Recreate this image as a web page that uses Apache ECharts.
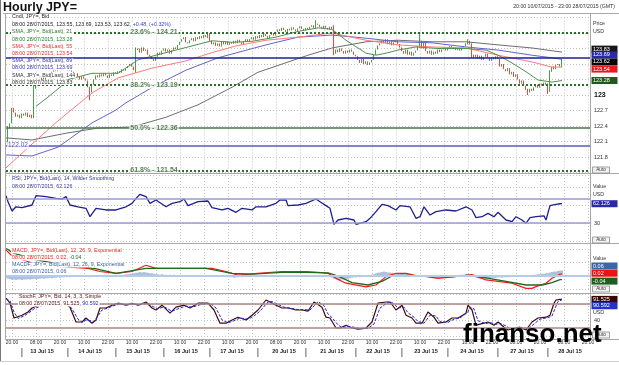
<!DOCTYPE html>
<html><head><meta charset="utf-8">
<script src="https://cdn.jsdelivr.net/npm/echarts@6/dist/echarts.min.js"></script>
<style>html,body{margin:0;padding:0;background:#fff;}#chart{width:619px;height:365px;}</style>
</head><body><div id="chart"></div>
<script>
const FONT = "'Liberation Sans', Arial, sans-serif";

// ---------- axis categories / tick labels ----------
const barCount = 293;
const categories = Array.from({length: barCount}, (_, i) => String(i));
const hourTickIdx = [3,15,27,39,51,63,75,87,99,111,123,135,147,159,171,183,195,207,219,231,243,255,267,279,291];
const hourTickText = ['20:00','08:00','20:00','10:00','22:00','10:00','22:00','10:00','22:00','10:00','20:00','08:00','20:00','10:00','22:00','10:00','22:00','10:00','22:00','10:00','22:00','08:00','20:00','08:00','20:00'];
const dayLabelIdx = [18,42,66,90,113,139,163,186,210,233,258,282];
const dayLabelText = ['13 Jul 15','14 Jul 15','15 Jul 15','16 Jul 15','17 Jul 15','20 Jul 15','21 Jul 15','22 Jul 15','23 Jul 15','24 Jul 15','27 Jul 15','28 Jul 15'];
const daySepIdx = [8,31,55,79,102,126,150,175,198,221,246,271];

// ---------- price data (hourly closes) ----------
const firstOpen = 122.85;
const openGaps = {1: 122.10};
const closes = [
122.80,122.35,122.45,122.75,122.66,122.58,122.62,122.55,122.64,122.60,
122.66,122.57,122.62,122.55,123.12,123.18,123.22,123.28,123.35,123.30,
123.38,123.42,123.40,123.45,123.50,123.46,123.52,123.48,123.55,123.50,
123.53,123.47,123.50,123.45,123.40,123.42,123.35,123.30,123.36,123.32,
123.28,123.15,123.05,123.20,123.30,123.38,123.34,123.40,123.36,123.42,
123.38,123.33,123.40,123.37,123.44,123.41,123.46,123.43,123.50,123.47,
123.52,123.56,123.60,123.55,123.48,123.87,123.90,123.82,123.92,123.85,
123.88,123.78,123.75,123.70,123.66,123.74,123.82,123.78,123.86,123.90,
123.84,123.88,123.80,123.87,123.92,123.89,123.97,124.03,124.08,124.12,
124.02,124.00,124.06,124.10,124.04,124.12,124.08,124.14,124.10,124.16,
124.12,124.20,124.05,123.98,124.02,123.95,124.00,123.94,124.03,123.98,
124.04,123.97,124.02,123.99,124.05,124.00,124.07,124.02,123.98,124.04,
124.08,124.03,124.08,124.12,124.07,124.14,124.10,124.16,124.12,124.18,
124.14,124.10,124.16,124.20,124.15,124.22,124.27,124.24,124.30,124.26,
124.22,124.28,124.25,124.31,124.27,124.24,124.29,124.33,124.28,124.25,
124.30,124.27,124.32,124.35,124.30,124.38,124.36,124.32,124.29,124.34,
124.30,124.27,124.32,124.28,123.80,123.88,123.83,123.90,123.85,123.80,
123.86,123.82,123.88,123.84,123.78,123.75,123.68,123.62,123.70,123.60,
123.65,123.58,123.63,123.68,123.78,123.88,123.96,124.00,124.05,124.00,
124.08,123.98,124.04,123.96,124.02,124.06,123.99,123.92,123.85,123.80,
123.88,123.78,123.84,123.76,123.82,123.86,123.95,124.05,123.90,124.02,
123.85,123.80,123.86,123.78,123.84,123.80,123.88,123.83,123.88,123.92,
123.86,123.90,123.95,123.89,123.93,123.87,123.91,123.86,123.92,123.95,
124.00,124.05,123.98,123.78,123.72,123.78,123.70,123.76,123.68,123.74,
123.80,123.72,123.66,123.73,123.69,123.75,123.70,123.55,123.60,123.50,
123.46,123.52,123.40,123.45,123.35,123.40,123.30,123.22,123.28,123.18,
123.10,123.05,123.12,123.08,123.15,123.20,123.14,123.22,123.18,123.24,
123.20,123.08,123.45,123.55,123.50,123.58,123.60,123.55,123.62];
const wicks = {1:[122.02,122.40],14:[122.55,123.20],42:[122.90,123.16],65:[123.43,123.92],101:[124.10,124.22],
  155:[124.28,124.45],164:[123.77,124.35],207:[123.92,124.20],231:[123.98,124.08],233:[123.72,124.00],
  261:[123.00,123.12],271:[123.02,123.22],272:[123.06,123.48],278:[123.53,123.69]};

// ---------- moving averages ----------
const sma21 = [[15,122.78],[21,122.96],[27,123.15],[31,123.30],[43,123.42],[56,123.42],[66,123.68],[81,123.83],[103,124.05],[113,124.02],[123,124.04],[135,124.12],[146,124.23],[156,124.30],[163,124.27],[170,124.06],[180,123.81],[185,123.77],[190,123.81],[196,123.87],[205,123.93],[216,123.90],[230,123.90],[240,123.87],[246,123.77],[253,123.62],[260,123.45],[266,123.29],[273,123.25],[278,123.28]];
const sma55 = [[0,121.59],[13,122.05],[26,122.50],[43,123.04],[56,123.33],[73,123.52],[90,123.66],[103,123.82],[115,123.95],[130,124.06],[146,124.12],[163,124.20],[180,124.06],[196,123.97],[213,123.93],[230,123.91],[246,123.77],[263,123.64],[273,123.54],[278,123.54]];
const sma89 = [[0,121.84],[13,121.82],[26,121.99],[43,122.46],[55,122.71],[60,122.85],[75,123.19],[90,123.48],[106,123.72],[130,123.97],[146,124.12],[163,124.16],[180,124.10],[196,124.03],[213,124.01],[230,123.93],[246,123.87],[263,123.77],[273,123.72],[278,123.69]];
const sma144 = [[0,122.17],[13,122.13],[30,122.26],[46,122.36],[63,122.38],[80,122.57],[96,122.81],[113,123.15],[126,123.44],[151,123.77],[163,123.91],[180,124.03],[196,124.06],[213,124.03],[230,124.03],[246,123.97],[263,123.91],[278,123.83]];

// ---------- horizontal levels ----------
const fibPct = ['23.6%','38.2%','50.0%','61.8%'];
const fibVal = [124.21,123.19,122.36,121.54];
const navyLevel = 123.72;
const blueLevel = 122.02;

// ---------- RSI ----------
const rsiPts = [[0,75.5],[1,65.5],[3,50],[5,57],[8,55.5],[13,60],[15,75.5],[20,74],[25,71],[28,70],[30,74],[32,60],[36,57],[40,54.5],[42,40.5],[45,54.5],[50,51.7],[55,51.7],[60,57],[63,62.8],[65,71],[67,77.8],[70,74],[72,62.8],[75,68.3],[80,57],[83,62.8],[87,65.5],[89,70],[91,58.9],[96,65.5],[101,66.7],[103,55.5],[108,51.7],[111,54.5],[115,47.8],[118,54.5],[123,51.7],[125,57],[130,57],[135,62.8],[137,68.3],[140,68.3],[141,58.9],[146,60],[150,62.8],[155,70],[157,65.5],[160,58.9],[162,54.5],[164,27.8],[166,35],[170,37.8],[174,35],[175,27.8],[180,32.2],[182,37.8],[185,48.9],[188,61],[191,58.9],[195,51.7],[197,58.9],[202,57],[205,37.8],[207,40.5],[209,57],[212,43.3],[215,48.9],[220,51.7],[225,50],[230,57],[231,60],[233,51.7],[235,38.9],[238,40.5],[241,46],[244,40.5],[246,47.8],[250,35],[253,32.2],[255,40.5],[258,35],[260,29.4],[262,38.9],[265,40.5],[269,42],[270,35],[272,58.9],[275,61],[277,62.1],[278,62.126]];
const rsiLevels = [70, 30];

// ---------- MACD ----------
const macdPts = [[0,0.29],[3,0.22],[15,0.13],[30,0.10],[41,0.085],[47,0.05],[55,0.03],[63,0.05],[70,0.12],[75,0.085],[83,0.085],[96,0.085],[103,0.085],[110,0.05],[116,0.01],[126,0.03],[138,0.05],[150,0.05],[156,0.04],[161,0.03],[165,-0.026],[170,-0.08],[180,-0.12],[185,-0.10],[190,-0.007],[195,0.03],[200,0.03],[205,0.005],[210,-0.004],[216,-0.026],[223,-0.01],[230,0.007],[233,0.015],[240,-0.044],[246,-0.06],[253,-0.08],[260,-0.137],[263,-0.137],[266,-0.11],[270,-0.08],[273,-0.026],[277,0.02],[278,0.02]];
const signalPts = [[0,0.31],[3,0.26],[15,0.18],[30,0.12],[44,0.085],[55,0.03],[70,0.085],[83,0.085],[100,0.085],[113,0.03],[123,0.02],[138,0.04],[150,0.04],[161,0.035],[166,0.0],[173,-0.074],[181,-0.10],[188,-0.06],[193,0.0],[201,0.01],[213,-0.01],[223,-0.01],[231,0.01],[240,-0.02],[250,-0.06],[260,-0.10],[268,-0.10],[273,-0.074],[277,-0.04],[278,-0.04]];
const macdHist = [
-0.020,-0.030,-0.035,-0.040,-0.040,-0.045,-0.040,-0.040,-0.045,-0.040,
-0.040,-0.035,-0.040,-0.035,-0.030,-0.035,-0.030,-0.030,-0.025,-0.030,
-0.025,-0.025,-0.020,-0.025,-0.020,-0.020,-0.015,-0.020,-0.015,-0.015,
-0.010,-0.010,-0.015,-0.010,-0.010,-0.005,-0.010,-0.005,-0.010,-0.005,
-0.005,-0.010,-0.015,-0.010,-0.005,-0.005,0,-0.005,0,0.005,
0.005,0,0.005,0.010,0.005,0.010,0.010,0.015,0.010,0.015,
0.020,0.020,0.025,0.025,0.030,0.035,0.040,0.045,0.040,0.045,
0.040,0.035,0.030,0.030,0.025,0.020,0.020,0.015,0.020,0.015,
0.015,0.010,0.015,0.010,0.015,0.010,0.010,0.015,0.010,0.005,
0.005,0.010,0.005,0,0.005,0.005,0,0.005,0,0.005,
0.005,0,-0.005,0,-0.005,0,-0.005,-0.005,0,-0.005,
-0.010,-0.010,-0.015,-0.015,-0.020,-0.015,-0.015,-0.010,-0.015,-0.010,
-0.010,-0.005,-0.005,0,0,0.005,0.005,0.010,0.005,0.010,
0.010,0.010,0.005,0.010,0.010,0.005,0.010,0.005,0.005,0.010,
0.005,0.005,0,0.005,0.005,0,0.005,0,0.005,0,
0,0.005,0,0.005,0.005,0.010,0.005,0.005,0,0,
0,-0.005,-0.005,-0.020,-0.030,-0.035,-0.040,-0.045,-0.040,-0.040,
-0.035,-0.030,-0.025,-0.020,-0.015,-0.015,-0.010,-0.015,-0.010,-0.010,
-0.005,0,0.005,0.015,0.020,0.030,0.035,0.040,0.045,0.050,
0.045,0.040,0.040,0.035,0.030,0.025,0.025,0.020,0.020,0.015,
0.010,0.010,0.005,0,0,-0.005,0,0.005,0,-0.005,
-0.005,-0.010,-0.005,-0.010,-0.005,-0.010,-0.010,-0.015,-0.010,-0.010,
-0.005,-0.005,0,0.005,0.005,0.010,0.010,0.015,0.015,0.015,
0.020,0.015,0.010,0,-0.010,-0.020,-0.025,-0.030,-0.030,-0.030,
-0.030,-0.025,-0.025,-0.020,-0.020,-0.020,-0.015,-0.015,-0.020,-0.015,
-0.015,-0.015,-0.010,-0.010,-0.010,-0.010,-0.005,-0.005,-0.005,0,
0,0.005,0.005,0.010,0.015,0.015,0.020,0.020,0.025,0.025,
0.030,0.030,0.040,0.045,0.050,0.050,0.055,0.060,0.060];

// ---------- Stochastic ----------
const stochK = [[0,95],[2,82],[4,45],[5,40],[8,52],[11,60],[13,70],[18,80],[24,85],[30,80],[32,72],[35,35],[36,32],[38,35],[40,45],[43,32],[45,40],[47,70],[50,70],[53,77],[56,82],[60,77],[63,82],[66,77],[70,85],[73,70],[75,65],[78,77],[82,57],[85,72],[89,77],[92,70],[96,82],[101,82],[104,65],[107,32],[110,32],[113,40],[116,47],[120,40],[123,52],[126,65],[130,90],[132,85],[135,77],[138,70],[141,70],[145,65],[148,65],[149,70],[151,62],[154,85],[155,90],[158,72],[160,47],[162,45],[165,20],[167,20],[170,27],[173,20],[176,17],[180,20],[183,35],[186,82],[190,85],[192,85],[195,65],[198,77],[200,52],[203,45],[205,32],[208,32],[211,60],[214,47],[216,32],[220,35],[223,45],[226,45],[230,57],[231,77],[233,65],[235,27],[239,32],[241,35],[244,27],[246,35],[249,22],[251,15],[255,20],[257,22],[260,15],[263,35],[266,45],[270,47],[272,52],[274,82],[275,90],[277,91.5],[278,91.525]];
const stochD = [[0,93],[2,88],[4,60],[6,44],[9,50],[12,60],[14,68],[19,78],[25,83],[31,80],[33,68],[36,42],[38,34],[40,40],[42,38],[44,36],[46,50],[48,65],[51,70],[54,76],[57,80],[61,78],[64,80],[67,78],[71,82],[74,72],[76,68],[79,73],[83,62],[86,68],[90,75],[93,72],[97,78],[102,82],[105,70],[108,40],[111,33],[114,38],[117,45],[121,42],[124,50],[127,62],[131,85],[133,86],[136,79],[139,72],[142,70],[146,66],[149,66],[152,65],[155,80],[156,86],[159,76],[161,55],[163,46],[166,28],[168,21],[171,24],[174,22],[177,18],[181,19],[184,30],[187,70],[191,84],[193,84],[196,70],[199,72],[201,58],[204,47],[206,36],[209,32],[212,52],[215,50],[217,36],[221,34],[224,42],[227,45],[231,60],[232,72],[234,68],[236,38],[240,31],[242,34],[245,29],[247,32],[250,25],[252,18],[256,18],[258,21],[261,18],[264,30],[267,42],[271,46],[273,50],[275,75],[276,86],[278,90.592]];
const stochLevels = [80, 20];

// ---------- build ----------
const candles = closes.map((c, i) => {
  const o = openGaps[i] !== undefined ? openGaps[i] : (i === 0 ? firstOpen : closes[i - 1]);
  let lo = Math.min(o, c), hi = Math.max(o, c);
  if (wicks[i]) { lo = wicks[i][0]; hi = wicks[i][1]; }
  return [o, c, lo, hi];
});
const last = a => a[a.length - 1][1];

const chart = echarts.init(document.getElementById('chart'), null, {renderer: 'canvas'});
const dotted = {color: '#c2c2c2', type: [1, 2], width: 1};
const gridSplit = (i) => i >= 3 && (i - 3) % 12 === 0;
function xAx(grid, extra) {
  return Object.assign({
    type: 'category', gridIndex: grid, data: categories, boundaryGap: false, position: 'bottom',
    axisLine: {show: false}, axisTick: {show: false}, axisLabel: {show: false},
    splitLine: {show: true, interval: gridSplit, lineStyle: dotted}
  }, extra || {});
}
function yAx(grid, min, max, interval, fmt) {
  return {
    type: 'value', gridIndex: grid, position: 'right', min: min, max: max, interval: interval, scale: true,
    axisLine: {show: false}, axisTick: {show: false},
    splitLine: {show: true, lineStyle: dotted},
    axisLabel: {show: true, margin: 4, fontSize: 5.5, color: '#333', fontFamily: FONT, formatter: fmt,
      rich: {b: {fontWeight: 'bold', fontSize: 7, color: '#111', fontFamily: FONT}}}
  };
}
const lineS = (name, data, x, y, color, width, extra) => Object.assign({
  type: 'line', name: name, data: data, xAxisIndex: x, yAxisIndex: y, showSymbol: false, symbol: 'none',
  lineStyle: {color: color, width: width}, z: 3, animation: false
}, extra || {});
const mlStyle = (color, width, type) => ({color: color, width: width, type: type || 'solid'});

const fibLines = fibVal.map((v, k) => ({yAxis: v,
  lineStyle: k === 2 ? mlStyle('#4a744a', 1.6) : mlStyle('#2e6b2e', 2, [2, 2])}));

const option = {
  animation: false,
  backgroundColor: '#fff',
  grid: [
    {left: 6, right: 29, top: 17.5, height: 155},
    {left: 6, right: 29, top: 175, height: 66},
    {left: 6, right: 29, top: 249, height: 40.5},
    {left: 6, right: 29, top: 294, height: 42}
  ],
  xAxis: [
    xAx(0), xAx(1), xAx(2),
    xAx(3, {axisLabel: {show: true, margin: 4, fontSize: 5, color: '#333', fontFamily: FONT,
      interval: (i) => hourTickIdx.indexOf(i) >= 0,
      formatter: (v) => { const k = hourTickIdx.indexOf(Number(v)); return k >= 0 ? hourTickText[k] : ''; }}}),
    xAx(3, {position: 'bottom', offset: 0, splitLine: {show: false},
      axisLabel: {show: true, margin: 12, fontSize: 5.6, fontWeight: 'bold', color: '#222', fontFamily: FONT,
      interval: (i) => dayLabelIdx.indexOf(i) >= 0 || daySepIdx.indexOf(i) >= 0,
      formatter: (v) => { const n = Number(v); const k = dayLabelIdx.indexOf(n); if (k >= 0) return dayLabelText[k]; return daySepIdx.indexOf(n) >= 0 ? '{s||}' : ''; },
      rich: {s: {fontSize: 9, fontWeight: 'normal', color: '#333', fontFamily: FONT}}}})
  ],
  yAxis: [
    yAx(0, 121.5, 124.5, 0.3, (v) => { if (v > 123.01 || v < 121.79) return ''; if (Math.abs(v - 123) < 1e-6) return '{b|123}'; return v.toFixed(1); }),
    yAx(1, 0, 110, 30, (v) => v === 30 ? '30' : ''),
    yAx(2, -0.15, 0.3, 0.15, () => ''),
    yAx(3, 0, 105, 40, (v) => v === 40 ? '40' : '')
  ],
  series: [
    {type: 'candlestick', name: 'Cndl', data: candles, xAxisIndex: 0, yAxisIndex: 0, barWidth: 1.3, z: 2,
      itemStyle: {color: '#178a17', color0: '#ee1010', borderColor: '#178a17', borderColor0: '#ee1010', borderWidth: 0.8},
      markLine: {symbol: ['none', 'none'], silent: true, label: {show: false}, animation: false,
        data: [{yAxis: navyLevel, lineStyle: mlStyle('#1c1c98', 1.6)}, {yAxis: blueLevel, lineStyle: mlStyle('#5a5ac6', 1.6)}].concat(fibLines)}},
    lineS('SMA144', sma144, 0, 0, '#6e6e6e', 1),
    lineS('SMA89', sma89, 0, 0, '#6464cc', 1),
    lineS('SMA55', sma55, 0, 0, '#ff7a7a', 1),
    lineS('SMA21', sma21, 0, 0, '#4f9150', 1),
    {type: 'scatter', xAxisIndex: 0, yAxisIndex: 0, symbolSize: 0, z: 6, silent: true,
      data: fibVal.map((v, k) => ({value: [74, v], label: {formatter: fibPct[k] + ' - ' + v.toFixed(2)}})),
      label: {show: true, position: 'inside', fontSize: 7, fontWeight: 'bold', color: '#2c5e2c', fontFamily: FONT, backgroundColor: '#fff', padding: [0, 1]}},
    {type: 'scatter', xAxisIndex: 0, yAxisIndex: 0, symbolSize: 0, z: 6, silent: true,
      data: [{value: [0, blueLevel], label: {formatter: blueLevel.toFixed(2)}}],
      label: {show: true, position: 'right', distance: 1, fontSize: 6.5, color: '#2b2ba6', fontFamily: FONT, backgroundColor: '#fff', padding: [0, 1]}},
    lineS('RSI', rsiPts, 1, 1, '#1f1f8f', 1.3, {markLine: {symbol: ['none', 'none'], silent: true, label: {show: false},
      data: rsiLevels.map(v => ({yAxis: v, lineStyle: mlStyle('#9a9ad6', 1.5)}))}}),
    {type: 'bar', name: 'MACDF', data: macdHist, xAxisIndex: 2, yAxisIndex: 2, barWidth: 0.9, z: 2,
      itemStyle: {color: '#5a86ba'},
      markLine: {symbol: ['none', 'none'], silent: true, label: {show: false}, data: [{yAxis: 0, lineStyle: mlStyle('#b6cbe8', 2)}]}},
    lineS('MACD', macdPts, 2, 2, '#ff1a1a', 1.2),
    lineS('Signal', signalPts, 2, 2, '#1d6a1d', 1.3),
    lineS('StochK', stochK, 3, 3, '#3e0c0c', 1.2, {markLine: {symbol: ['none', 'none'], silent: true, label: {show: false},
      data: stochLevels.map(v => ({yAxis: v, lineStyle: mlStyle('#ab8585', 1.5)}))}}),
    lineS('StochD', stochD, 3, 3, '#2525e0', 1, {lineStyle: {color: '#2525e0', width: 1, type: [3, 1.5]}})
  ]
};
chart.setOption(option);

// ---------- graphic overlay: frames, legends, value tags ----------
const G = [];
function txt(x, y, segs, opts) {
  opts = opts || {};
  const size = opts.size || 5.3;
  const rich = {};
  const text = segs.map((s, k) => { rich['s' + k] = {fill: s[1], fontSize: size, fontFamily: FONT, fontWeight: opts.bold ? 'bold' : 'normal'}; return '{s' + k + '|' + s[0] + '}'; }).join('');
  G.push({type: 'text', z: opts.z || 100, silent: true, style: Object.assign({
    text: text, rich: rich, x: x, y: y, align: opts.align || 'left', verticalAlign: 'middle',
    textAlign: opts.align || 'left', textVerticalAlign: 'middle',
    font: (opts.bold ? 'bold ' : '') + size + 'px ' + FONT
  }, opts.bg ? {backgroundColor: opts.bg, padding: [0, 1]} : {})});
}
function line(x1, y1, x2, y2, color, w) {
  G.push({type: 'line', z: 90, silent: true, shape: {x1: x1, y1: y1, x2: x2, y2: y2}, style: {stroke: color, lineWidth: w || 1}});
}
// frames
line(0.5, 0, 0.5, 362, '#777', 1);
line(3, 13.5, 619, 13.5, '#a8a8a8');
[173.5, 243.5, 293.5, 339.5].forEach(y => line(5.5, y, 619, y, '#a8a8a8'));
line(5.5, 13.5, 5.5, 339.5, '#a8a8a8');
line(590.5, 13.5, 590.5, 339.5, '#a8a8a8');
line(0, 361.5, 619, 361.5, '#d0d0d0');

// title
txt(3, 7.5, [['Hourly JPY=', '#111']], {size: 12.5, bold: true});
txt(615, 7, [['20:00 10/07/2015 - 23:00 28/07/2015 (GMT)', '#333']], {size: 5.2, align: 'right'});

// main legend
const W = '#fff';
const LG = '#2a7a2a', LR = '#e53030', LB = '#3535b5', LK = '#333';
txt(11, 17, [['Cndl, JPY=, Bid', '#222']], {bg: W});
txt(11, 24.5, [['08:00 28/07/2015, 123.55, 123.69, 123.53, 123.62, ', '#222'], ['+0.48, (+0.32%)', '#3a3ad0']], {bg: W});
txt(11, 32, [['SMA, JPY=, Bid(Last), 21', LG]], {bg: W});
txt(11, 39.3, [['08:00 28/07/2015, 123.28', LG]], {bg: W});
txt(11, 46.6, [['SMA, JPY=, Bid(Last), 55', LR]], {bg: W});
txt(11, 53.6, [['08:00 28/07/2015, 123.54', LR]], {bg: W});
txt(11, 61, [['SMA, JPY=, Bid(Last), 89', LB]], {bg: W});
txt(11, 68, [['08:00 28/07/2015, 123.69', LB]], {bg: W});
txt(11, 75.2, [['SMA, JPY=, Bid(Last), 144', LK]], {bg: W});
txt(11, 82.5, [['08:00 28/07/2015, 123.83', LK]], {bg: W});
// RSI legend
txt(11, 179, [['RSI, JPY=, Bid(Last), 14, Wilder Smoothing', '#34349c']], {bg: W});
txt(11, 186.5, [['08:00 28/07/2015, 62.126', '#34349c']], {bg: W});
// MACD legend
txt(11, 251, [['MACD, JPY=, Bid(Last), 12, 26, 9, Exponential', '#e52222']], {bg: W});
txt(11, 258, [['08:00 28/07/2015, 0.02, ', '#e52222'], ['-0.04', '#1e6e1e']], {bg: W});
txt(11, 265, [['MACDF, JPY=, Bid(Last), 12, 26, 9, Exponential', '#3a5f9a']], {bg: W});
txt(11, 272, [['08:00 28/07/2015, 0.06', '#3a5f9a']], {bg: W});
// Stoch legend
txt(18, 297, [['StochF, JPY=, Bid, 14, 3, 3, Simple', '#5a1414']], {bg: W});
txt(18, 304, [['08:00 28/07/2015, 91.525, ', '#5a1414'], ['90.592', '#2a2acc']], {bg: W});

// right side captions
txt(593, 24, [['Price', '#333']]);
txt(593, 32, [['USD', '#333']]);
txt(593, 187, [['Value', '#333']]);
txt(593, 194.5, [['USD', '#333']]);
txt(593, 259, [['Value', '#333']]);
txt(593, 313, [['USD', '#333']]);
[170, 240, 289, 335].forEach(y => {
  G.push({type: 'rect', z: 95, silent: true, shape: {x: 592.5, y: y - 3, width: 17, height: 6}, style: {fill: '#f2f2f2', stroke: '#8a8a8a', lineWidth: 0.8}});
  txt(601, y, [['Auto', '#333']], {size: 4.6, align: 'center', z: 96});
});

// value tags (positions from the library's axes)
const tags = [
  [0, last(sma144), '#161616', -3],
  [0, last(sma89), '#2a2aa8', -4.4],
  [0, closes[closes.length - 1], '#050505', -1],
  [0, last(sma55), '#e41c1c', 2],
  [0, last(sma21), '#1e5a1e', 0],
  [1, last(rsiPts), '#2a2aa8', 0],
  [2, macdHist[macdHist.length - 1], '#3a66a8', -4.6],
  [2, last(macdPts), '#ee1111', -1],
  [2, last(signalPts), '#1e5e1e', 1.5],
  [3, last(stochK), '#3a0505', 0],
  [3, last(stochD), '#2233cc', 6]
];
tags.forEach(t => {
  const y = chart.convertToPixel({yAxisIndex: t[0]}, t[1]) + t[3];
  const dec = t[0] === 3 || t[0] === 1 ? 3 : 2;
  G.push({type: 'rect', z: 97, silent: true, shape: {x: 591.5, y: y - 3.5, width: 26, height: 7}, style: {fill: t[2]}});
  txt(593, y, [[t[1].toFixed(dec), '#fff']], {size: 5.5, z: 98});
});

// watermark
G.push({type: 'text', z: 200, silent: true, style: {text: 'finanso.net', x: 463, y: 335, fill: '#000',
  font: 'bold 26px ' + FONT, align: 'left', verticalAlign: 'middle', textAlign: 'left', textVerticalAlign: 'middle'}});

chart.setOption({graphic: {elements: G}});
</script>
</body></html>
